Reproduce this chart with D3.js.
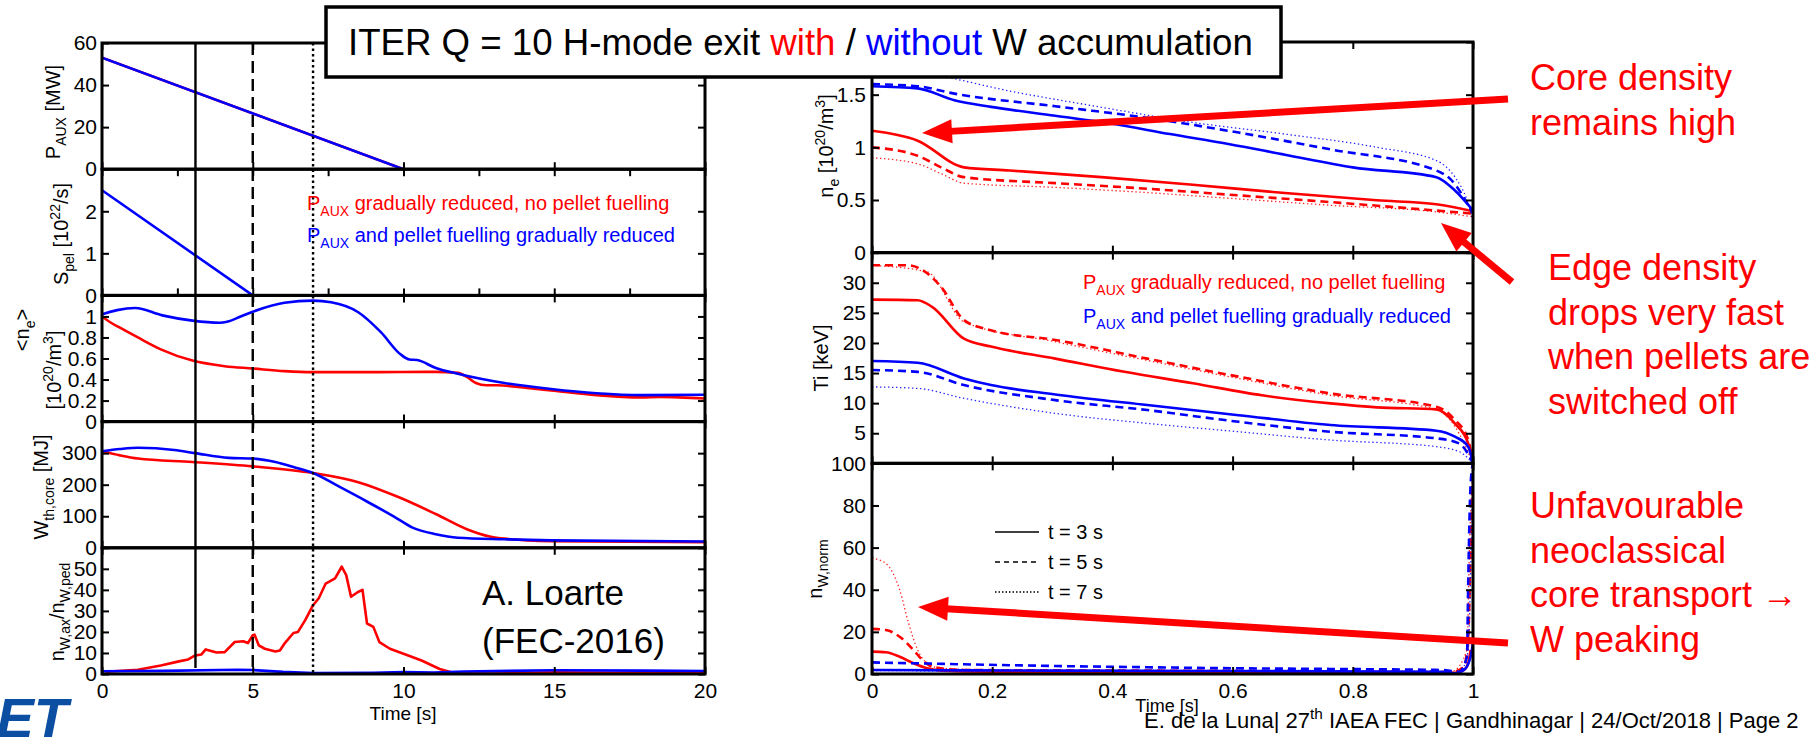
<!DOCTYPE html>
<html>
<head>
<meta charset="utf-8">
<script src="https://cdn.jsdelivr.net/npm/d3@7"></script>
<style>
html,body{margin:0;padding:0;background:#fff;}
svg{display:block;}
text{font-family:"Liberation Sans",Arial,Helvetica,sans-serif;white-space:pre;}
</style>
</head>
<body>
<svg id="fig" width="1812" height="739"></svg>
<script>
// ---------- Left figure: time traces (t in s) ----------
const timeTicks = [0, 5, 10, 15, 20];
const timeTicksFine = [0, 2.5, 5, 7.5, 10, 12.5, 15, 17.5, 20];
const snapshotTimes = [3.1, 5, 7];

const pauxRed  = [[0, 53], [10, 0], [20, 0]];
const pauxBlue = [[0, 53], [10, 0], [20, 0]];
const pauxTicks = [0, 20, 40, 60];

const spelRed  = [[0, 0], [20, 0]];
const spelBlue = [[0, 2.5], [5, 0], [20, 0]];
const spelTicks = [0, 1, 2];

const neAvgRed = [[0, 1.0], [0.3, 0.94], [0.58, 0.895], [1.19, 0.8], [1.95, 0.687], [3, 0.58], [4.07, 0.527],
  [5, 0.505], [6.05, 0.48], [7, 0.47], [8.8, 0.47], [11.07, 0.473], [11.8, 0.463], [12.1, 0.425], [12.4, 0.367],
  [12.75, 0.345], [13.1, 0.345], [14.1, 0.32], [14.9, 0.297], [16.4, 0.252], [17.9, 0.23], [18.5, 0.235], [20, 0.22]];
const neAvgBlue = [[0, 1.02], [0.5, 1.06], [1.1, 1.08], [2, 1.01], [3, 0.96], [3.9, 0.94], [4.15, 0.95], [4.6, 1.0],
  [5, 1.045], [6.05, 1.13], [7, 1.15], [7.6, 1.135], [8.5, 1.04], [9.25, 0.85], [9.9, 0.64], [10.2, 0.59],
  [10.45, 0.585], [11.07, 0.51], [11.8, 0.455], [12.6, 0.405], [13.35, 0.367], [14.9, 0.31], [16.4, 0.27],
  [17.9, 0.252], [20, 0.255]];
const neAvgTicks = [0, 0.2, 0.4, 0.6, 0.8, 1];

const wthRed = [[0, 306], [0.6, 293], [1.19, 283], [3, 272], [5, 258], [7, 237], [8.5, 208], [9.85, 160],
  [11.07, 107], [12.1, 59], [12.9, 35], [13.35, 29], [14.9, 21], [20, 18]];
const wthBlue = [[0, 306], [0.6, 313], [1.19, 317], [2.4, 310], [3.09, 300], [4.2, 285], [5, 283], [5.75, 272],
  [6.35, 256], [7, 237], [7.9, 192], [8.8, 146], [9.7, 98], [10.3, 64], [11.07, 43], [11.8, 32], [13.35, 27],
  [14.9, 23.5], [20, 20]];
const wthTicks = [0, 100, 200, 300];

const peakRed = [[0.12, 1.1], [1.19, 2], [1.95, 4], [2.55, 6], [2.86, 6.9], [3.09, 8.8], [3.3, 9.3], [3.44, 11.7],
  [3.8, 10.2], [4.07, 10.4], [4.4, 15.2], [4.68, 15.6], [4.84, 14.7], [5, 18.4], [5.06, 18.7], [5.2, 13.6],
  [5.4, 12], [5.75, 10.7], [5.9, 11.2], [6.05, 14.4], [6.35, 19.5], [6.5, 20], [6.74, 25.6], [7, 32.7],
  [7.19, 36], [7.42, 43], [7.73, 45.5], [7.95, 51], [8.1, 47], [8.26, 36.7], [8.49, 39], [8.64, 40],
  [8.79, 24], [9.0, 22.4], [9.2, 15.2], [9.55, 12], [10.0, 9.6], [10.6, 6.4], [11.2, 2.4], [11.7, 0.3],
  [13, 0.2], [15, 0.8], [17, 0.6], [20, 0.9]];
const peakBlue = [[0, 1.3], [2, 1.5], [4.5, 2.0], [5, 1.9], [6, 1.0], [7, 0.5], [9, 0.6], [10, 0.9], [11, 0.7],
  [12, 1.2], [15, 1.8], [18, 1.6], [20, 1.4]];
const peakTicks = [0, 10, 20, 30, 40, 50];

// ---------- Right figure: radial profiles at t = 3, 5, 7 s ----------
const rhoTicks = [0, 0.2, 0.4, 0.6, 0.8, 1];

const neRed3 = [[0, 1.157], [0.076, 1.063], [0.153, 0.81], [0.229, 0.78], [0.382, 0.717], [0.534, 0.645],
  [0.687, 0.566], [0.84, 0.497], [0.939, 0.459], [1.0, 0.393]];
const neRed5 = [[0, 1.0], [0.076, 0.92], [0.115, 0.81], [0.153, 0.717], [0.305, 0.66], [0.458, 0.607],
  [0.61, 0.544], [0.763, 0.48], [0.939, 0.40], [1.0, 0.37]];
const neRed7 = [[0, 0.9], [0.076, 0.843], [0.115, 0.75], [0.153, 0.66], [0.305, 0.62], [0.458, 0.57],
  [0.61, 0.51], [0.763, 0.45], [0.939, 0.387], [1.0, 0.34]];
const neBlue3 = [[0, 1.58], [0.076, 1.56], [0.137, 1.447], [0.198, 1.384], [0.305, 1.3], [0.397, 1.226],
  [0.496, 1.126], [0.595, 1.03], [0.687, 0.93], [0.8, 0.81], [0.939, 0.717], [0.97, 0.59], [1.0, 0.40]];
const neBlue5 = [[0, 1.6], [0.076, 1.58], [0.137, 1.51], [0.305, 1.39], [0.458, 1.28], [0.61, 1.14],
  [0.763, 0.98], [0.939, 0.78], [0.962, 0.70], [1.0, 0.37]];
const neBlue7 = [[0, 1.75], [0.1, 1.69], [0.229, 1.535], [0.382, 1.38], [0.534, 1.236], [0.687, 1.126],
  [0.84, 1.0], [0.939, 0.874], [0.97, 0.717], [0.99, 0.5], [1.0, 0.31]];
const neTicks = [0, 0.5, 1, 1.5, 2];
const neLabels = [0, 0.5, 1, 1.5];

const tiRed3 = [[0, 27.2], [0.076, 27.1], [0.1, 26], [0.153, 20.7], [0.198, 19.4], [0.305, 17.4], [0.42, 15.2],
  [0.534, 13.3], [0.649, 11.3], [0.763, 9.96], [0.84, 9.3], [0.939, 8.96], [0.97, 6.6], [0.992, 3.3], [1.0, 0]];
const tiRed5 = [[0, 32.9], [0.061, 32.9], [0.084, 32.1], [0.115, 29.3], [0.153, 23.8], [0.198, 22.1],
  [0.305, 20.5], [0.458, 17.4], [0.61, 14.4], [0.763, 11.6], [0.939, 9.4], [0.97, 7.2], [0.992, 3.9], [1.0, 0]];
const tiRed7 = [[0, 32.9], [0.092, 31.8], [0.153, 23.5], [0.305, 20.2], [0.458, 17.1], [0.61, 14.1],
  [0.763, 11.3], [0.939, 8.96], [0.97, 6.1], [1.0, 0]];
const tiBlue3 = [[0, 17.0], [0.076, 16.7], [0.153, 14.1], [0.198, 13.0], [0.305, 11.45], [0.458, 9.68],
  [0.61, 8.0], [0.763, 6.36], [0.939, 5.42], [0.97, 4.42], [0.992, 2.77], [1.0, 0]];
const tiBlue5 = [[0, 15.5], [0.076, 15.2], [0.153, 13.0], [0.305, 10.5], [0.458, 8.85], [0.61, 6.9],
  [0.763, 5.25], [0.939, 4.15], [0.977, 3.3], [1.0, 0]];
const tiBlue7 = [[0, 12.7], [0.076, 12.45], [0.153, 10.8], [0.305, 8.3], [0.458, 6.64], [0.61, 5.25],
  [0.763, 3.87], [0.939, 2.77], [0.977, 1.94], [1.0, 0]];
const tiTicks = [0, 5, 10, 15, 20, 25, 30];
const tiLabels = [5, 10, 15, 20, 25, 30];

const nwRed3 = [[0, 10.6], [0.023, 10.3], [0.046, 8.2], [0.069, 5.1], [0.092, 2.7], [0.115, 1.6], [0.19, 1.1],
  [0.6, 1.0], [0.97, 0.6], [0.985, 1.9], [0.992, 5], [0.996, 11.4]];
const nwRed5 = [[0, 21.4], [0.023, 20.9], [0.046, 17.7], [0.069, 11.4], [0.084, 6.6], [0.1, 3.5], [0.153, 1.9],
  [0.458, 1.6], [0.763, 1.3], [0.965, 1.0], [0.985, 3.5], [0.992, 17.7], [0.996, 59], [1.0, 100]];
const nwRed7 = [[0, 55], [0.023, 52.5], [0.046, 40], [0.061, 24], [0.076, 11.4], [0.092, 5], [0.115, 2.7],
  [0.229, 1.9], [0.965, 1.3], [0.99, 11.4], [0.994, 59], [1.0, 100]];
const nwBlue3 = [[0, 1.9], [0.305, 1.6], [0.61, 1.4], [0.947, 1.1], [0.97, 0.3], [0.985, 1.9], [0.996, 8.2],
  [1.0, 15]];
const nwBlue5 = [[0, 5.5], [0.153, 4.6], [0.305, 3.8], [0.458, 3.2], [0.61, 2.7], [0.763, 2.4], [0.947, 1.9],
  [0.977, 1.1], [0.99, 8.2], [0.992, 43], [0.996, 90], [1.0, 100]];
const nwBlue7 = [[0, 1.6], [0.61, 1.1], [0.977, 0.6], [0.992, 11], [0.997, 60], [1.0, 100]];
const nwTicks = [0, 20, 40, 60, 80, 100];

const legendLabels = ["t = 3 s", "t = 5 s", "t = 7 s"];

// ---------- styles ----------
const RED = "#ff0000", BLUE = "#0000ff";
const STYLE = {
  solid:  {dash: null, width: 2.6, opacity: 1},
  dashed: {dash: "8,5", width: 2.6, opacity: 1},
  dotted: {dash: "1.4,2.6", width: 1.3, opacity: 0.85}
};
const FS = 20;   // axis titles and in-plot text
const TFS = 21;  // tick labels

const svg = d3.select("#fig");

// text with sub/superscript runs
function rich(sel, parts, size) {
  let shift = 0;
  parts.forEach(([s, t]) => {
    const target = t === "sub" ? size * 0.32 : t === "sup" ? -size * 0.42 : 0;
    const fs = t === "n" ? size : size * 0.7;
    sel.append("tspan").attr("dy", target - shift).attr("font-size", fs).text(s);
    shift = target;
  });
  return sel;
}

function drawFrame(g, x, y, opt) {
  const [x0, x1] = x.range();
  const [yb, yt] = y.range();
  const tick = 7;
  const styleAxis = a => a.attr("font-size", TFS).attr("font-family", '"Liberation Sans",Arial,sans-serif')
    .call(s => s.select(".domain").remove())
    .call(s => s.selectAll(".tick line").attr("stroke-width", 2))
    .call(s => s.selectAll(".tick text").attr("fill", "#000"));
  g.append("g").attr("transform", `translate(${x0},0)`)
    .call(d3.axisLeft(y).tickValues(opt.yTicks).tickSize(-tick).tickSizeOuter(0).tickPadding(opt.pad)
      .tickFormat(v => opt.yLabels.includes(v) ? String(v) : ""))
    .call(styleAxis);
  g.append("g").attr("transform", `translate(${x1},0)`)
    .call(d3.axisRight(y).tickValues(opt.yTicks).tickSize(-tick).tickSizeOuter(0).tickFormat(""))
    .call(styleAxis);
  g.append("g").attr("transform", `translate(0,${yt})`)
    .call(d3.axisTop(x).tickValues(opt.xTicks).tickSize(-tick).tickSizeOuter(0).tickFormat(""))
    .call(styleAxis);
  g.append("g").attr("transform", `translate(0,${yb})`)
    .call(d3.axisBottom(x).tickValues(opt.xTicks).tickSize(-tick).tickSizeOuter(0).tickPadding(9)
      .tickFormat(opt.xLabels ? (v => String(v)) : ""))
    .call(styleAxis);
  g.append("rect").attr("x", x0).attr("y", yt).attr("width", x1 - x0).attr("height", yb - yt)
    .attr("fill", "none").attr("stroke", "#000").attr("stroke-width", 3);
}

function drawLine(g, x, y, data, color, style, curve) {
  const st = STYLE[style];
  const clipId = g.attr("data-clip");
  g.append("path").datum(data)
    .attr("d", d3.line().x(d => x(d[0])).y(d => y(d[1])).curve(curve || d3.curveLinear))
    .attr("fill", "none").attr("stroke", color).attr("stroke-width", st.width)
    .attr("stroke-dasharray", st.dash).attr("opacity", st.opacity)
    .attr("stroke-linejoin", "round")
    .attr("clip-path", clipId ? `url(#${clipId})` : null);
}

// ================= Left figure =================
const L = {x0: 102, x1: 705, top: 43, bottom: 674};
const xL = d3.scaleLinear().domain([0, 20]).range([L.x0, L.x1]);
const hL = (L.bottom - L.top) / 5;

const leftPanels = [
  {dom: [0, 60], ticks: pauxTicks, labels: pauxTicks, xt: timeTicks, lines: [[pauxRed, RED], [pauxBlue, BLUE]], curve: d3.curveLinear},
  {dom: [0, 3], ticks: spelTicks, labels: spelTicks, xt: timeTicksFine, lines: [[spelRed, RED], [spelBlue, BLUE]], curve: d3.curveLinear},
  {dom: [0, 1.2], ticks: neAvgTicks, labels: neAvgTicks, xt: timeTicks, lines: [[neAvgRed, RED], [neAvgBlue, BLUE]], curve: d3.curveMonotoneX},
  {dom: [0, 400], ticks: wthTicks, labels: wthTicks, xt: timeTicks, lines: [[wthRed, RED], [wthBlue, BLUE]], curve: d3.curveMonotoneX},
  {dom: [0, 60], ticks: peakTicks, labels: peakTicks, xt: timeTicks, lines: [[peakRed, RED], [peakBlue, BLUE]], curve: d3.curveLinear}
];

const defs = svg.append("defs");
const gLeft = svg.append("g");
leftPanels.forEach((p, i) => {
  const y = d3.scaleLinear().domain(p.dom).range([L.top + (i + 1) * hL, L.top + i * hL]);
  const id = "clipL" + i;
  defs.append("clipPath").attr("id", id).append("rect")
    .attr("x", L.x0).attr("y", L.top + i * hL).attr("width", L.x1 - L.x0).attr("height", hL);
  const g = gLeft.append("g").attr("data-clip", id);
  p.lines.forEach(([data, col]) => drawLine(g, xL, y, data, col, "solid", p.curve));
  drawFrame(g, xL, y, {yTicks: p.ticks, yLabels: p.labels, xTicks: p.xt, xLabels: i === 4, pad: 5});
});

// snapshot markers at t = 3, 5, 7 s
const refDash = [null, "12,6", "2.5,3"];
snapshotTimes.forEach((t, i) => {
  gLeft.append("line").attr("x1", xL(t)).attr("x2", xL(t))
    .attr("y1", L.top).attr("y2", i === 0 ? L.bottom - 6 : L.bottom)
    .attr("stroke", "#000").attr("stroke-width", 2.4).attr("stroke-dasharray", refDash[i]);
});

// axis titles
const yTitle = (x, y, parts) => rich(svg.append("text")
  .attr("transform", `translate(${x},${y}) rotate(-90)`).attr("text-anchor", "middle").attr("font-size", FS), parts, FS);
yTitle(60, 112, [["P", "n"], ["AUX", "sub"], [" [MW]", "n"]]);
yTitle(68, 234, [["S", "n"], ["pel", "sub"], [" [10", "n"], ["22", "sup"], ["/s]", "n"]]);
yTitle(29, 330, [["<n", "n"], ["e", "sub"], [">", "n"]]);
yTitle(61, 370, [["[10", "n"], ["20", "sup"], ["/m", "n"], ["3", "sup"], ["]", "n"]]);
yTitle(48, 487, [["W", "n"], ["th,core", "sub"], [" [MJ]", "n"]]);
yTitle(64, 612, [["n", "n"], ["W,ax", "sub"], ["/n", "n"], ["W,ped", "sub"]]);
svg.append("text").attr("x", 403).attr("y", 720).attr("text-anchor", "middle").attr("font-size", 19).text("Time [s]");

// case descriptions
rich(svg.append("text").attr("x", 307).attr("y", 210).attr("fill", RED), [["P", "n"], ["AUX", "sub"], [" gradually reduced, no pellet fuelling", "n"]], FS);
rich(svg.append("text").attr("x", 307).attr("y", 242).attr("fill", BLUE), [["P", "n"], ["AUX", "sub"], [" and pellet fuelling gradually reduced", "n"]], FS);

svg.append("text").attr("x", 482).attr("y", 605).attr("font-family", "Lato, 'Open Sans', sans-serif").attr("font-size", 35).text("A. Loarte");
svg.append("text").attr("x", 482).attr("y", 653).attr("font-family", "Lato, 'Open Sans', sans-serif").attr("font-size", 35).text("(FEC-2016)");

// ================= Right figure =================
const R = {x0: 872, x1: 1473, top: 42, bottom: 674};
const xR = d3.scaleLinear().domain([0, 1]).range([R.x0, R.x1]);
const hR = (R.bottom - R.top) / 3;

const rightPanels = [
  {dom: [0, 2], ticks: neTicks, labels: neLabels,
   lines: [[neRed7, RED, "dotted"], [neRed5, RED, "dashed"], [neRed3, RED, "solid"],
           [neBlue7, BLUE, "dotted"], [neBlue5, BLUE, "dashed"], [neBlue3, BLUE, "solid"]]},
  {dom: [0, 35], ticks: tiTicks, labels: tiLabels,
   lines: [[tiRed7, RED, "dotted"], [tiRed5, RED, "dashed"], [tiRed3, RED, "solid"],
           [tiBlue7, BLUE, "dotted"], [tiBlue5, BLUE, "dashed"], [tiBlue3, BLUE, "solid"]]},
  {dom: [0, 100], ticks: nwTicks, labels: nwTicks,
   lines: [[nwRed7, RED, "dotted"], [nwRed5, RED, "dashed"], [nwRed3, RED, "solid"],
           [nwBlue7, BLUE, "dotted"], [nwBlue5, BLUE, "dashed"], [nwBlue3, BLUE, "solid"]]}
];

const gRight = svg.append("g");
rightPanels.forEach((p, i) => {
  const y = d3.scaleLinear().domain(p.dom).range([R.top + (i + 1) * hR, R.top + i * hR]);
  const id = "clipR" + i;
  defs.append("clipPath").attr("id", id).append("rect")
    .attr("x", R.x0).attr("y", R.top + i * hR).attr("width", R.x1 - R.x0).attr("height", hR);
  const g = gRight.append("g").attr("data-clip", id);
  p.lines.forEach(([data, col, st]) => drawLine(g, xR, y, data, col, st, d3.curveMonotoneX));
  drawFrame(g, xR, y, {yTicks: p.ticks, yLabels: p.labels, xTicks: rhoTicks, xLabels: i === 2, pad: 6});
  if (i === 2) {
    // line-style legend
    const styles = ["solid", "dashed", "dotted"];
    const ly = d3.scalePoint().domain(legendLabels).range([532, 592]);
    legendLabels.forEach((lab, k) => {
      g.append("line").attr("x1", 995).attr("x2", 1039).attr("y1", ly(lab)).attr("y2", ly(lab))
        .attr("stroke", "#000").attr("stroke-width", 1.3)
        .attr("stroke-dasharray", styles[k] === "solid" ? null : styles[k] === "dashed" ? "5,4" : "1.5,2");
      g.append("text").attr("x", 1048).attr("y", ly(lab)).attr("dy", "0.35em").attr("font-size", FS).text(lab);
    });
  }
});

yTitle(833, 146, [["n", "n"], ["e", "sub"], [" [10", "n"], ["20", "sup"], ["/m", "n"], ["3", "sup"], ["]", "n"]]);
yTitle(828, 358, [["Ti [keV]", "n"]]);
yTitle(822, 569, [["n", "n"], ["W,norm", "sub"]]);

rich(svg.append("text").attr("x", 1083).attr("y", 289).attr("fill", RED), [["P", "n"], ["AUX", "sub"], [" gradually reduced, no pellet fuelling", "n"]], FS);
rich(svg.append("text").attr("x", 1083).attr("y", 323).attr("fill", BLUE), [["P", "n"], ["AUX", "sub"], [" and pellet fuelling gradually reduced", "n"]], FS);

svg.append("text").attr("x", 1167).attr("y", 712).attr("text-anchor", "middle").attr("font-size", 18).text("Time [s]");

// ================= Slide annotations =================
function arrow(x1, y1, x2, y2) {
  const len = Math.hypot(x2 - x1, y2 - y1);
  const ux = (x2 - x1) / len, uy = (y2 - y1) / len;
  const hl = 30, hw = 12;
  const bx = x2 - ux * hl, by = y2 - uy * hl;
  svg.append("line").attr("x1", x1).attr("y1", y1).attr("x2", bx + ux * 2).attr("y2", by + uy * 2)
    .attr("stroke", RED).attr("stroke-width", 7);
  svg.append("path")
    .attr("d", `M${x2},${y2}L${bx - uy * hw},${by + ux * hw}L${bx + uy * hw},${by - ux * hw}Z`)
    .attr("fill", RED);
}
arrow(1508, 99, 922, 133);
arrow(1512, 282, 1441, 223);
arrow(1508, 643, 918, 607);

const notes = [
  {x: 1530, lines: ["Core density", "remains high"], y0: 90},
  {x: 1548, lines: ["Edge density", "drops very fast", "when pellets are", "switched off"], y0: 280},
  {x: 1530, lines: ["Unfavourable", "neoclassical", "core transport \u2192", "W peaking"], y0: 518}
];
notes.forEach(n => {
  n.lines.forEach((s, k) => {
    svg.append("text").attr("x", n.x).attr("y", n.y0 + k * 44.5).attr("fill", RED)
      .attr("font-size", 36).text(s);
  });
});

// title box
svg.append("rect").attr("x", 326).attr("y", 7).attr("width", 955).attr("height", 70)
  .attr("fill", "#fff").attr("stroke", "#000").attr("stroke-width", 3.5);
const title = svg.append("text").attr("x", 348).attr("y", 55)
  .attr("font-family", "Lato, 'Open Sans', sans-serif").attr("font-size", 33);
[["ITER Q = 10 H-mode exit ", "#000"], ["with", RED], [" / ", "#000"], ["without", BLUE], [" W accumulation", "#000"]]
  .forEach(([s, c]) => title.append("tspan").attr("fill", c).text(s));
const tw = title.node().getComputedTextLength();
title.attr("font-size", 33 * 905 / tw);

// footer and logo
const foot = svg.append("text").attr("x", 1144).attr("y", 728).attr("font-size", 22);
rich(foot, [["E. de la Luna| 27", "n"], ["th", "sup"], [" IAEA FEC | Gandhinagar | 24/Oct/2018 | Page 2", "n"]], 22);

svg.append("text").attr("x", 68).attr("y", 737).attr("text-anchor", "end")
  .attr("font-size", 56).attr("font-weight", "bold").attr("font-style", "italic")
  .attr("fill", "#0b4ea2").text("ET");
</script>
</body>
</html>
